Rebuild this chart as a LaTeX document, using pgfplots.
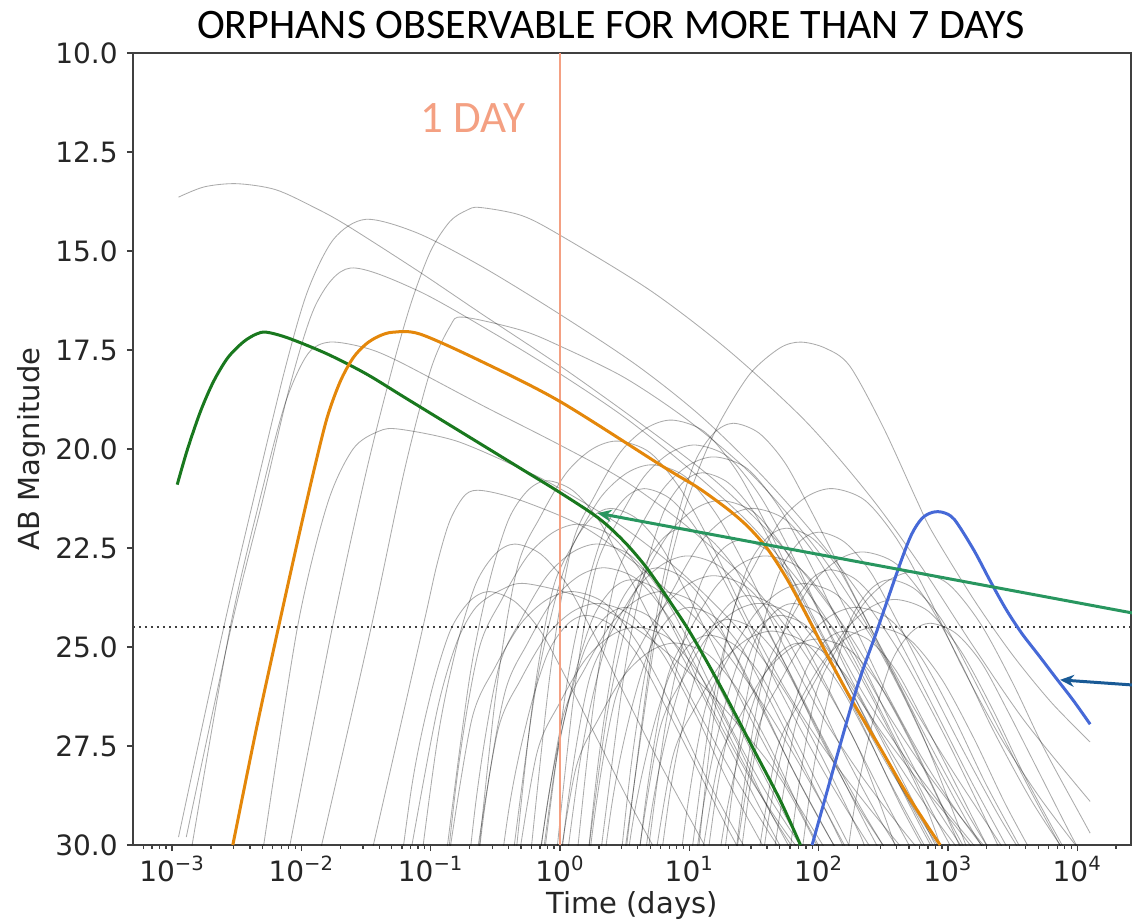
\documentclass[border=0pt]{standalone}
\usepackage{pgfplots}
\pgfplotsset{compat=1.18}
\usepackage{fontspec}
\setmainfont{DejaVu Sans}
\newfontfamily\carlito{Carlito}
\usetikzlibrary{arrows.meta}
\definecolor{salmon}{RGB}{244,160,130}
\definecolor{mplgreen}{RGB}{25,120,30}
\definecolor{mplorange}{RGB}{228,135,10}
\definecolor{mplblue}{RGB}{70,105,215}
\definecolor{arrgreen}{RGB}{40,150,95}
\definecolor{arrblue}{RGB}{25,90,150}
\begin{document}
\begin{tikzpicture}
\begin{axis}[
  scale only axis, width=499pt, height=396pt,
  xmin=-3.302, xmax=4.416, ymin=10, ymax=30, y dir=reverse,
  axis line style={black!75, line width=0.65pt},
  tick style={black!75, line width=0.65pt},
  tick align=outside, tick pos=left,
  major tick length=3pt, minor tick length=1.75pt,
  xtick={-3,-2,-1,0,1,2,3,4},
  xticklabels={10\textsuperscript{−3},10\textsuperscript{−2},10\textsuperscript{−1},10\textsuperscript{0},10\textsuperscript{1},10\textsuperscript{2},10\textsuperscript{3},10\textsuperscript{4}},
  minor xtick={-3.222,-3.155,-3.097,-3.046,
    -2.699,-2.523,-2.398,-2.301,-2.222,-2.155,-2.097,-2.046,
    -1.699,-1.523,-1.398,-1.301,-1.222,-1.155,-1.097,-1.046,
    -0.699,-0.523,-0.398,-0.301,-0.222,-0.155,-0.097,-0.046,
    0.301,0.477,0.602,0.699,0.778,0.845,0.903,0.954,
    1.301,1.477,1.602,1.699,1.778,1.845,1.903,1.954,
    2.301,2.477,2.602,2.699,2.778,2.845,2.903,2.954,
    3.301,3.477,3.602,3.699,3.778,3.845,3.903,3.954,4.301},
  ytick={10,12.5,15,17.5,20,22.5,25,27.5,30},
  yticklabels={10.0,12.5,15.0,17.5,20.0,22.5,25.0,27.5,30.0},
  ticklabel style={font=\fontsize{14}{16}\selectfont, text=black!85},
  xticklabel style={anchor=base, yshift=-15pt},
  yticklabel style={anchor=east, inner sep=0pt, xshift=-4.5pt},
  xlabel={Time (days)}, ylabel={AB Magnitude},
  every axis x label/.style={at={(axis description cs:0.5,-0.0871)}, anchor=base},
  every axis y label/.style={at={(axis description cs:-0.0932,0.5)}, anchor=base, rotate=90},
  label style={font=\fontsize{14.5}{17}\selectfont, text=black!85},
  title={ORPHANS OBSERVABLE FOR MORE THAN 7 DAYS},
  title style={at={(axis description cs:0.479,1)}, anchor=base, yshift=1.5pt, font=\carlito\fontsize{21}{25}\selectfont},
  every axis plot/.append style={mark=none},
  gr/.style={black, opacity=0.33, line width=0.42pt, smooth, tension=0.5},
]
% ---- grey light curves (x = log10 t) ----
\addplot[gr] coordinates {(-2.95,13.64) (-2.75,13.38) (-2.5,13.3) (-2.2,13.45) (-1.9,13.9) (-1.65,14.35) (-1.1,15.5) (-0.6,16.6) (0,17.9) (0.6,19.3) (1.2,20.8) (1.7,22.4) (2.2,24.5) (2.6,26.7) (2.95,29) (3.1,30.1)};
\addplot[gr] coordinates {(-2.95,29.8) (-2.6,24.5) (-2.35,21.0) (-2.12,17.9) (-1.95,16.0) (-1.75,14.7) (-1.5,14.2) (-1.1,14.55) (-0.6,15.4) (0,16.6) (0.6,17.9) (1.1,19.2) (1.6,20.8) (2.1,22.7) (2.6,25.0) (3.0,27.4) (3.4,30.1)};
\addplot[gr] coordinates {(-2.89,29.8) (-2.55,24.6) (-2.3,21.3) (-2.08,18.3) (-1.88,16.3) (-1.62,15.43) (-1.1,16.0) (-0.5,17.1) (0,18.1) (0.5,19.2) (1.0,20.5) (1.5,22.0) (2.0,24.0) (2.4,26.2) (2.8,28.8) (2.95,30.1)};
\addplot[gr] coordinates {(-2.1,30.2) (-1.76,24.5) (-1.5,20.6) (-1.3,18.0) (-1.15,16.3) (-1.0,15.0) (-0.85,14.25) (-0.72,13.97) (-0.62,13.9) (-0.3,14.1) (0,14.6) (0.7,16.0) (1.3,17.5) (1.9,19.3) (2.4,21.2) (2.8,23.0) (3.2,25.0) (3.6,26.9) (4.1,28.9)};
\addplot[gr] coordinates {(-2.85,30.1) (-2.55,24.5) (-2.3,21.0) (-2.12,18.8) (-1.95,17.6) (-1.78,17.3) (-1.5,17.45) (-1.24,17.8) (-0.6,18.9) (0,19.9) (0.5,20.8) (1.0,22.0) (1.5,23.5) (1.9,25.2) (2.3,27.5) (2.6,30.1)};
\addplot[gr] coordinates {(-2.3,30.2) (-2.03,24.5) (-1.8,21.4) (-1.6,20.0) (-1.4,19.55) (-1.24,19.5) (-0.8,19.8) (-0.3,20.5) (0,21.0) (0.5,22.0) (1.0,23.3) (1.5,25.0) (1.9,27.0) (2.3,29.6) (2.36,30.1)};
\addplot[gr] coordinates {(-1.85,30.1) (-1.46,24.5) (-1.2,20.5) (-1.0,18.0) (-0.85,16.9) (-0.75,16.67) (-0.3,17.0) (0,17.4) (0.5,18.2) (1.0,19.3) (1.5,20.7) (2.0,22.6) (2.4,24.6) (2.8,27.2) (3.15,30.1)};
\addplot[gr] coordinates {(-1.45,30.1) (-1.06,24.5) (-0.95,22.9) (-0.85,21.8) (-0.73,21.15) (-0.6,21.05) (-0.3,21.3) (0.2,22.0) (0.7,23.2) (1.2,24.8) (1.6,26.6) (2.0,28.8) (2.2,30.1)};
\addplot[gr] coordinates {(-1.15,30.1) (-0.95,26.6) (-0.8,24.9) (-0.65,24.0) (-0.45,23.55) (-0.26,23.4) (0.2,23.8) (0.7,24.8) (1.2,26.3) (1.7,28.3) (2.0,30.1)};
\addplot[gr] coordinates {(-0.28,31.97) (-0.08,25.77) (0.09,22.47) (0.27,21.17) (0.47,20.07) (0.67,19.47) (0.87,19.27) (1.12,19.57) (1.37,20.57) (1.62,22.07) (1.87,23.77) (2.17,25.57) (2.47,27.07) (2.77,28.37) (3.07,29.57) (3.47,31.27)};
\addplot[gr] coordinates {(0.44,32.35) (0.54,29.35) (0.74,24.35) (0.89,21.95) (1.04,20.35) (1.19,19.6) (1.34,19.35) (1.54,19.6) (1.74,20.35) (1.94,21.55) (2.19,23.15) (2.44,24.75) (2.74,26.55) (3.04,28.15) (3.34,29.65) (3.74,31.65)};
\addplot[gr] coordinates {(-0.43,33.1) (-0.23,26.9) (-0.06,23.6) (0.12,22.3) (0.32,21.2) (0.52,20.6) (0.72,20.4) (0.97,20.7) (1.22,21.7) (1.47,23.2) (1.72,24.9) (2.02,26.7) (2.32,28.2) (2.62,29.5) (2.92,30.7)};
\addplot[gr] coordinates {(-0.51,34.5) (-0.41,31.5) (-0.21,26.5) (-0.06,24.1) (0.09,22.5) (0.24,21.75) (0.39,21.5) (0.59,21.75) (0.79,22.5) (0.99,23.7) (1.24,25.3) (1.49,26.9) (1.79,28.7) (2.09,30.3)};
\addplot[gr] coordinates {(-1.0,33.8) (-0.9,30.8) (-0.7,25.8) (-0.55,23.4) (-0.4,21.8) (-0.25,21.05) (-0.1,20.8) (0.1,21.05) (0.3,21.8) (0.5,23.0) (0.75,24.6) (1.0,26.2) (1.3,28.0) (1.6,29.6) (1.9,31.1)};
\addplot[gr] coordinates {(-0.85,35.1) (-0.65,28.9) (-0.48,25.6) (-0.3,24.3) (-0.1,23.2) (0.1,22.6) (0.3,22.4) (0.55,22.7) (0.8,23.7) (1.05,25.2) (1.3,26.9) (1.6,28.7) (1.9,30.2)};
\addplot[gr] coordinates {(-0.25,33.3) (-0.05,28.3) (0.1,25.9) (0.25,24.3) (0.4,23.55) (0.55,23.3) (0.75,23.55) (0.95,24.3) (1.15,25.5) (1.4,27.1) (1.65,28.7) (1.95,30.5)};
\addplot[gr] coordinates {(-0.15,30.1) (0.02,26.8) (0.2,25.5) (0.4,24.4) (0.6,23.8) (0.8,23.6) (1.05,23.9) (1.3,24.9) (1.55,26.4) (1.8,28.1) (2.1,29.9) (2.4,31.4)};
\addplot[gr] coordinates {(0.2,34) (0.4,29) (0.55,26.6) (0.7,25.0) (0.85,24.25) (1.0,24.0) (1.2,24.25) (1.4,25.0) (1.6,26.2) (1.85,27.8) (2.1,29.4) (2.4,31.2)};
\addplot[gr] coordinates {(0.05,35.9) (0.25,29.7) (0.42,26.4) (0.6,25.1) (0.8,24.0) (1.0,23.4) (1.2,23.2) (1.45,23.5) (1.7,24.5) (1.95,26.0) (2.2,27.7) (2.5,29.5) (2.8,31.0)};
\addplot[gr] coordinates {(0.65,33.7) (0.85,28.7) (1.0,26.3) (1.15,24.7) (1.3,23.95) (1.45,23.7) (1.65,23.95) (1.85,24.7) (2.05,25.9) (2.3,27.5) (2.55,29.1) (2.85,30.9)};
\addplot[gr] coordinates {(0.45,35.4) (0.65,29.2) (0.82,25.9) (1.0,24.6) (1.2,23.5) (1.4,22.9) (1.6,22.7) (1.85,23.0) (2.1,24.0) (2.35,25.5) (2.6,27.2) (2.9,29.0) (3.2,30.5)};
\addplot[gr] coordinates {(1.0,33.9) (1.2,28.9) (1.35,26.5) (1.5,24.9) (1.65,24.15) (1.8,23.9) (2.0,24.15) (2.2,24.9) (2.4,26.1) (2.65,27.7) (2.9,29.3) (3.2,31.1)};
\addplot[gr] coordinates {(0.96,33.7) (1.16,27.5) (1.33,24.2) (1.51,22.9) (1.71,21.8) (1.91,21.2) (2.11,21.0) (2.36,21.3) (2.61,22.3) (2.86,23.8) (3.11,25.5) (3.41,27.3) (3.71,28.8) (4.01,30.1)};
\addplot[gr] coordinates {(1.29,33.05) (1.49,28.05) (1.64,25.65) (1.79,24.05) (1.94,23.3) (2.09,23.05) (2.29,23.3) (2.49,24.05) (2.69,25.25) (2.94,26.85) (3.19,28.45) (3.49,30.25)};
\addplot[gr] coordinates {(1.35,30.5) (1.52,27.2) (1.7,25.9) (1.9,24.8) (2.1,24.2) (2.3,24.0) (2.55,24.3) (2.8,25.3) (3.05,26.8) (3.3,28.5) (3.6,30.3)};
\addplot[gr] coordinates {(1.75,33.3) (1.95,28.3) (2.1,25.9) (2.25,24.3) (2.4,23.55) (2.55,23.3) (2.75,23.55) (2.95,24.3) (3.15,25.5) (3.4,27.1) (3.65,28.7) (3.95,30.5)};
\addplot[gr] coordinates {(2.06,34.4) (2.26,29.4) (2.41,27.0) (2.56,25.4) (2.71,24.65) (2.86,24.4) (3.06,24.65) (3.26,25.4) (3.46,26.6) (3.71,28.2) (3.96,29.8) (4.1,30.6)};
\addplot[gr] coordinates {(0.5,30.2) (0.75,24.5) (0.92,22.0) (1.08,20.45) (1.24,19.3) (1.47,18.1) (1.7,17.45) (1.86,17.3) (2.05,17.45) (2.24,17.9) (2.5,19.45) (2.76,21.3) (2.88,22.1) (3.2,23.8) (3.5,25.2) (3.8,26.4) (4.1,27.4)};
\addplot[gr] coordinates {(-0.7,32.5) (-0.5,26.3) (-0.33,23.0) (-0.15,21.7) (0.05,20.6) (0.25,20.0) (0.45,19.8) (0.7,20.1) (0.95,21.1) (1.2,22.6) (1.45,24.3) (1.75,26.1) (2.05,27.6) (2.35,28.9) (2.65,30.1)};
\addplot[gr] coordinates {(0.2,33.6) (0.3,30.6) (0.5,25.6) (0.65,23.2) (0.8,21.6) (0.95,20.85) (1.1,20.6) (1.3,20.85) (1.5,21.6) (1.7,22.8) (1.95,24.4) (2.2,26.0) (2.5,27.8) (2.8,29.4) (3.1,30.9)};
\addplot[gr] coordinates {(0.35,34.2) (0.55,28.0) (0.72,24.7) (0.9,23.4) (1.1,22.3) (1.3,21.7) (1.5,21.5) (1.75,21.8) (2.0,22.8) (2.25,24.3) (2.5,26.0) (2.8,27.8) (3.1,29.3) (3.4,30.6)};
\addplot[gr] coordinates {(-0.6,34.2) (-0.4,29.2) (-0.25,26.8) (-0.1,25.2) (0.05,24.45) (0.2,24.2) (0.4,24.45) (0.6,25.2) (0.8,26.4) (1.05,28.0) (1.3,29.6) (1.6,31.4)};
\addplot[gr] coordinates {(-0.35,31.0) (-0.18,27.7) (0.0,26.4) (0.2,25.3) (0.4,24.7) (0.6,24.5) (0.85,24.8) (1.1,25.8) (1.35,27.3) (1.6,29.0) (1.9,30.8)};
\addplot[gr] coordinates {(0.5,34.3) (0.7,29.3) (0.85,26.9) (1.0,25.3) (1.15,24.55) (1.3,24.3) (1.5,24.55) (1.7,25.3) (1.9,26.5) (2.15,28.1) (2.4,29.7) (2.7,31.5)};
\addplot[gr] coordinates {(0.7,31.1) (0.87,27.8) (1.05,26.5) (1.25,25.4) (1.45,24.8) (1.65,24.6) (1.9,24.9) (2.15,25.9) (2.4,27.4) (2.65,29.1) (2.95,30.9)};
\addplot[gr] coordinates {(0.05,35.0) (0.15,32.0) (0.35,27.0) (0.5,24.6) (0.65,23.0) (0.8,22.25) (0.95,22.0) (1.15,22.25) (1.35,23.0) (1.55,24.2) (1.8,25.8) (2.05,27.4) (2.35,29.2) (2.65,30.8)};
\addplot[gr] coordinates {(1.05,31.3) (1.22,28.0) (1.4,26.7) (1.6,25.6) (1.8,25.0) (2.0,24.8) (2.25,25.1) (2.5,26.1) (2.75,27.6) (3.0,29.3) (3.3,31.1)};
\addplot[gr] coordinates {(1.65,30.3) (1.82,27.0) (2.0,25.7) (2.2,24.6) (2.4,24.0) (2.6,23.8) (2.85,24.1) (3.1,25.1) (3.35,26.6) (3.6,28.3) (3.9,30.1)};
\addplot[gr] coordinates {(-1.25,35.4) (-1.15,32.4) (-0.95,27.4) (-0.8,25.0) (-0.65,23.4) (-0.5,22.65) (-0.35,22.4) (-0.15,22.65) (0.05,23.4) (0.25,24.6) (0.5,26.2) (0.75,27.8) (1.05,29.6) (1.35,31.4)};
\addplot[gr] coordinates {(-0.85,30.1) (-0.68,26.8) (-0.5,25.5) (-0.3,24.4) (-0.1,23.8) (0.1,23.6) (0.35,23.9) (0.6,24.9) (0.85,26.4) (1.1,28.1) (1.4,29.9) (1.7,31.4)};
\addplot[gr] coordinates {(-0.1,32.6) (0.1,26.4) (0.27,23.1) (0.45,21.8) (0.65,20.7) (0.85,20.1) (1.05,19.9) (1.3,20.2) (1.55,21.2) (1.8,22.7) (2.05,24.4) (2.35,26.2) (2.65,27.7) (2.95,29.0) (3.25,30.2)};
\addplot[gr] coordinates {(-0.25,34.0) (-0.15,31.0) (0.05,26.0) (0.2,23.6) (0.35,22.0) (0.5,21.25) (0.65,21.0) (0.85,21.25) (1.05,22.0) (1.25,23.2) (1.5,24.8) (1.75,26.4) (2.05,28.2) (2.35,29.8) (2.65,31.3)};
\addplot[gr] coordinates {(0.85,35.0) (0.95,32.0) (1.15,27.0) (1.3,24.6) (1.45,23.0) (1.6,22.25) (1.75,22.0) (1.95,22.25) (2.15,23.0) (2.35,24.2) (2.6,25.8) (2.85,27.4) (3.15,29.2) (3.45,30.8)};
\addplot[gr] coordinates {(1.2,35.3) (1.4,29.1) (1.57,25.8) (1.75,24.5) (1.95,23.4) (2.15,22.8) (2.35,22.6) (2.6,22.9) (2.85,23.9) (3.1,25.4) (3.35,27.1) (3.65,28.9) (3.95,30.4)};
\addplot[gr] coordinates {(0.35,34.7) (0.55,29.7) (0.7,27.3) (0.85,25.7) (1.0,24.95) (1.15,24.7) (1.35,24.95) (1.55,25.7) (1.75,26.9) (2.0,28.5) (2.25,30.1)};
\addplot[gr] coordinates {(-0.8,35.7) (-0.6,29.5) (-0.43,26.2) (-0.25,24.9) (-0.05,23.8) (0.15,23.2) (0.35,23.0) (0.6,23.3) (0.85,24.3) (1.1,25.8) (1.35,27.5) (1.65,29.3) (1.95,30.8)};
\addplot[gr] coordinates {(0.75,36.1) (0.95,29.9) (1.12,26.6) (1.3,25.3) (1.5,24.2) (1.7,23.6) (1.9,23.4) (2.15,23.7) (2.4,24.7) (2.65,26.2) (2.9,27.9) (3.2,29.7) (3.5,31.2)};
\addplot[gr] coordinates {(1.6,35.8) (1.8,29.6) (1.97,26.3) (2.15,25.0) (2.35,23.9) (2.55,23.3) (2.75,23.1) (3.0,23.4) (3.25,24.4) (3.5,25.9) (3.75,27.6) (4.05,29.4) (4.1,29.7)};
\addplot[gr] coordinates {(0.5,35.3) (0.6,32.3) (0.8,27.3) (0.95,24.9) (1.1,23.3) (1.25,22.55) (1.4,22.3) (1.6,22.55) (1.8,23.3) (2.0,24.5) (2.25,26.1) (2.5,27.7) (2.8,29.5) (3.1,31.3)};
\addplot[gr] coordinates {(-0.05,31.4) (0.12,28.1) (0.3,26.8) (0.5,25.7) (0.7,25.1) (0.9,24.9) (1.15,25.2) (1.4,26.2) (1.65,27.7) (1.9,29.4) (2.2,31.2)};
\addplot[gr] coordinates {(-0.3,34.0) (-0.1,29.0) (0.05,26.6) (0.2,25.0) (0.35,24.25) (0.5,24.0) (0.7,24.25) (0.9,25.0) (1.1,26.2) (1.35,27.8) (1.6,29.4) (1.9,31.2)};
\addplot[gr] coordinates {(0.6,30.4) (0.77,27.1) (0.95,25.8) (1.15,24.7) (1.35,24.1) (1.55,23.9) (1.8,24.2) (2.05,25.2) (2.3,26.7) (2.55,28.4) (2.85,30.2)};
\addplot[gr] coordinates {(1.4,34.6) (1.6,29.6) (1.75,27.2) (1.9,25.6) (2.05,24.85) (2.2,24.6) (2.4,24.85) (2.6,25.6) (2.8,26.8) (3.05,28.4) (3.3,30.0) (3.6,31.8)};
\addplot[gr] coordinates {(-0.15,35.4) (0.05,29.2) (0.22,25.9) (0.4,24.6) (0.6,23.5) (0.8,22.9) (1.0,22.7) (1.25,23.0) (1.5,24.0) (1.75,25.5) (2.0,27.2) (2.3,29.0) (2.6,30.5)};
\addplot[gr] coordinates {(-0.05,33.0) (0.15,28.0) (0.3,25.6) (0.45,24.0) (0.6,23.25) (0.75,23.0) (0.95,23.25) (1.15,24.0) (1.35,25.2) (1.6,26.8) (1.85,28.4) (2.15,30.2)};
\addplot[gr] coordinates {(0.9,34.2) (1.1,29.2) (1.25,26.8) (1.4,25.2) (1.55,24.45) (1.7,24.2) (1.9,24.45) (2.1,25.2) (2.3,26.4) (2.55,28.0) (2.8,29.6) (3.1,31.4)};
\addplot[gr] coordinates {(1.5,31.0) (1.67,27.7) (1.85,26.4) (2.05,25.3) (2.25,24.7) (2.45,24.5) (2.7,24.8) (2.95,25.8) (3.2,27.3) (3.45,29.0) (3.75,30.8)};
\addplot[gr] coordinates {(0.1,34.0) (0.3,27.8) (0.47,24.5) (0.65,23.2) (0.85,22.1) (1.05,21.5) (1.25,21.3) (1.5,21.6) (1.75,22.6) (2.0,24.1) (2.25,25.8) (2.55,27.6) (2.85,29.1) (3.15,30.4)};
\addplot[gr] coordinates {(-0.65,30.4) (-0.48,27.1) (-0.3,25.8) (-0.1,24.7) (0.1,24.1) (0.3,23.9) (0.55,24.2) (0.8,25.2) (1.05,26.7) (1.3,28.4) (1.6,30.2)};
\addplot[gr] coordinates {(1.1,35.1) (1.2,32.1) (1.4,27.1) (1.55,24.7) (1.7,23.1) (1.85,22.35) (2.0,22.1) (2.2,22.35) (2.4,23.1) (2.6,24.3) (2.85,25.9) (3.1,27.5) (3.4,29.3) (3.7,30.9)};
\addplot[gr] coordinates {(-1.35,33.6) (-1.15,28.6) (-1.0,26.2) (-0.85,24.6) (-0.7,23.85) (-0.55,23.6) (-0.35,23.85) (-0.15,24.6) (0.05,25.8) (0.3,27.4) (0.55,29.0) (0.85,30.8)};
\addplot[gr] coordinates {(1.05,34.9) (1.25,29.9) (1.4,27.5) (1.55,25.9) (1.7,25.15) (1.85,24.9) (2.05,25.15) (2.25,25.9) (2.45,27.1) (2.7,28.7) (2.95,30.3)};
\addplot[gr] coordinates {(-1.0,34.6) (-0.8,28.4) (-0.63,25.1) (-0.45,23.8) (-0.25,22.7) (-0.05,22.1) (0.15,21.9) (0.4,22.2) (0.65,23.2) (0.9,24.7) (1.15,26.4) (1.45,28.2) (1.75,29.7) (2.05,30.9)};
\addplot[gr] coordinates {(0.05,32.9) (0.25,26.7) (0.42,23.4) (0.6,22.1) (0.8,21.0) (1.0,20.4) (1.2,20.2) (1.45,20.5) (1.7,21.5) (1.95,23.0) (2.2,24.7) (2.5,26.5) (2.8,28.0) (3.1,29.3) (3.4,30.5)};
% ---- 1 day line and limit ----
\addplot[salmon, line width=1pt] coordinates {(0,10) (0,30)};
\addplot[black!75, line width=0.9pt, dash pattern=on 0.9pt off 2.1pt] coordinates {(-3.302,24.5) (4.416,24.5)};
% ---- highlighted curves ----
\addplot[mplgreen, line width=1.5pt, smooth, tension=0.5] coordinates {(-2.96,20.9) (-2.88,20.0) (-2.78,19.05) (-2.68,18.3) (-2.57,17.7) (-2.45,17.3) (-2.35,17.1) (-2.27,17.05) (-2.1,17.2) (-1.8,17.6) (-1.5,18.1) (-1.2,18.7) (-0.9,19.3) (-0.6,19.9) (-0.3,20.5) (0,21.1) (0.3,21.75) (0.5,22.35) (0.67,23.0) (0.85,23.85) (1.0,24.6) (1.15,25.45) (1.3,26.35) (1.5,27.6) (1.7,28.85) (1.86,30)};
\addplot[mplorange, line width=1.5pt, smooth, tension=0.5] coordinates {(-2.53,30) (-2.35,27.1) (-2.17,24.4) (-2.02,22.2) (-1.9,20.5) (-1.8,19.2) (-1.7,18.3) (-1.6,17.7) (-1.5,17.35) (-1.4,17.15) (-1.29,17.05) (-1.08,17.1) (-0.6,17.8) (0,18.8) (0.8,20.45) (1.06,20.96) (1.29,21.5) (1.45,21.95) (1.6,22.5) (1.75,23.25) (1.9,24.15) (2.05,25.1) (2.24,26.25) (2.45,27.4) (2.7,28.8) (2.94,30)};
\addplot[mplblue, line width=1.5pt, smooth, tension=0.5] coordinates {(1.95,30) (2.27,26.3) (2.45,24.6) (2.63,22.9) (2.72,22.15) (2.8,21.75) (2.88,21.6) (2.96,21.6) (3.05,21.78) (3.2,22.55) (3.33,23.35) (3.45,24.05) (3.57,24.65) (3.7,25.2) (3.84,25.8) (3.97,26.35) (4.1,26.95)};
\node[salmon, anchor=base, font=\carlito\fontsize{22.5}{26}\selectfont] at (axis cs:-0.673,12.02) {1 DAY};
\coordinate (SW) at (rel axis cs:0,0);
\coordinate (NE) at (rel axis cs:1,1);
\coordinate (gtip) at (axis cs:0.29,21.62);
\coordinate (gtail) at (axis cs:4.95,24.46);
\coordinate (btip) at (axis cs:3.867,25.83);
\coordinate (btail) at (axis cs:4.95,26.08);
\end{axis}
\draw[arrgreen, line width=1.5pt, -{Stealth[length=7pt,width=6pt]}] (gtail) -- (gtip);
\draw[arrblue, line width=1.5pt, -{Stealth[length=7pt,width=6pt]}] (btail) -- (btip);
\pgfresetboundingbox
\path[use as bounding box] ([xshift=-66.5pt,yshift=-38pt]SW) rectangle ([xshift=0.5pt,yshift=26.5pt]NE);
\end{tikzpicture}
\end{document}
